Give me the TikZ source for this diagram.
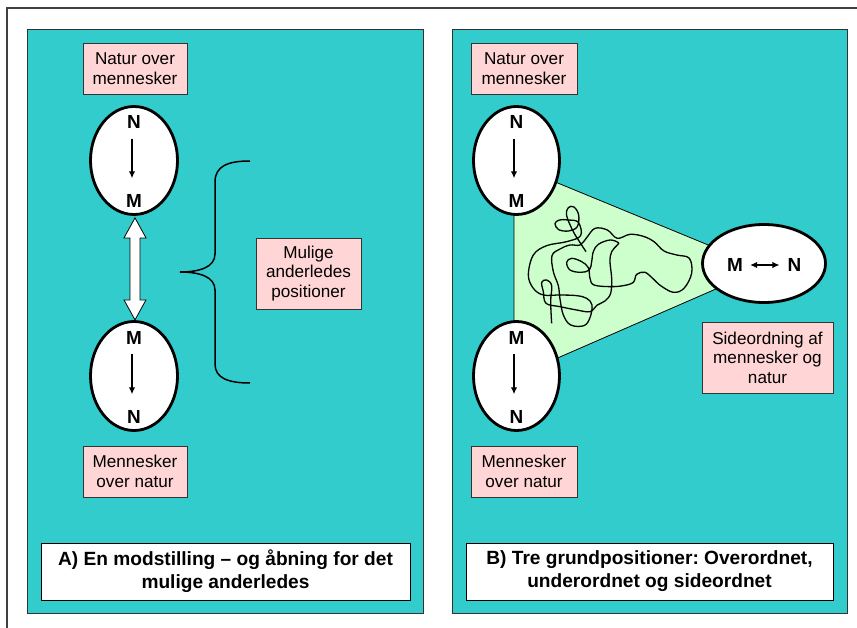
\documentclass[tikz,border=0pt]{standalone}
\usepackage{fontspec}
\setmainfont{Liberation Sans}
\usetikzlibrary{arrows.meta,shapes.geometric,calc}
\definecolor{tealbg}{HTML}{33CCCC}
\definecolor{pinkbg}{HTML}{FFD5D5}
\definecolor{greenbg}{HTML}{CCFFCC}
\definecolor{edgecol}{HTML}{333333}
\frenchspacing
\tikzset{
  panel/.style={draw=edgecol, line width=1bp, fill=tealbg, inner sep=0pt},
  pinkbox/.style={draw=edgecol, line width=0.8bp, fill=pinkbg, align=center, inner sep=0pt,
    font=\fontsize{17.2}{19.5}\selectfont},
  ell/.style={ellipse, draw=black, line width=2.8bp, fill=white, inner sep=0pt},
  lbl/.style={inner sep=0pt, font=\fontsize{19}{21}\selectfont\bfseries},
  caption/.style={draw=black, line width=0.8bp, fill=white, align=center, inner sep=0pt,
    font=\fontsize{19.2}{23}\selectfont\bfseries},
  smallarr/.style={-{Latex[length=7bp,width=6.5bp]}, line width=1.3bp},
  botharr/.style={{Latex[length=7bp,width=6.5bp]}-{Latex[length=7bp,width=6.5bp]}, line width=1.3bp},
  dblarrow/.style={draw=black, line width=0.8bp, fill=white},
  bracestyle/.style={draw=black, line width=1.5bp},
  tri/.style={draw=black, line width=0.8bp, fill=greenbg},
  scribble/.style={draw=black, line width=1.3bp, line join=round},
}
\begin{document}
\begin{tikzpicture}[x=1bp,y=-1bp]
\useasboundingbox (0,0) rectangle (857,628);
\fill[white] (0,0) rectangle (857,628);
% outer frame
\draw[draw=black!75, line width=1.5bp] (7,628) -- (7,8) -- (857,8);

% panels
\node[panel, minimum width=395bp, minimum height=583bp] (pA) at (225.5,321.5) {};
\node[panel, minimum width=395bp, minimum height=583bp] (pB) at (649.5,321.5) {};

%%%%% Panel A
\node[pinkbox, minimum width=104bp, minimum height=51bp] (tA) at (135,68.5) {Natur over\\mennesker};
\node[pinkbox, minimum width=104bp, minimum height=51bp] (bA) at (135,471.5) {Mennesker\\over natur};
\node[pinkbox, minimum width=105bp, minimum height=71bp] (mul) at (308.5,273.5) {Mulige\\anderledes\\positioner};

\node[ell, minimum width=87bp, minimum height=108bp] (eA1) at (134,160.5) {};
\node[ell, minimum width=87bp, minimum height=109bp] (eA2) at (134,376) {};
\node[lbl] (nA1) at (134,122) {N};
\node[lbl] (mA1) at (134,201) {M};
\node[lbl] (mA2) at (134,337.5) {M};
\node[lbl] (nA2) at (134,417) {N};
\draw[smallarr, shorten <=10bp, shorten >=16bp] ([xshift=-2bp]nA1.south) -- ([xshift=-2bp]mA1.north);
\draw[smallarr, shorten <=10bp, shorten >=16bp] ([xshift=-2bp]mA2.south) -- ([xshift=-2bp]nA2.north);

% white double arrow between the two ellipses
\draw[dblarrow] ($(eA1.south)+(1,2)$) -- ++(11,20) -- ++(-6,0) -- ++(0,62) -- ++(6,0)
  -- ++(-11,20) -- ++(-11,-20) -- ++(6,0) -- ++(0,-62) -- ++(-6,0) -- cycle;

% brace
\draw[bracestyle] (250,161) .. controls (228,161) and (215,166) .. (215,182)
  -- (215,254) .. controls (215,267) and (200,272) .. (180,272)
  .. controls (200,272) and (215,277) .. (215,290)
  -- (215,364) .. controls (215,378) and (228,383) .. (250,383);

\node[caption, minimum width=369bp, minimum height=57bp] (capA) at (225.5,571.5)
  {A) En modstilling -- og åbning for det\\mulige anderledes};

%%%%% Panel B
\filldraw[tri] (514,165) -- (764,268) -- (514,377) -- cycle;
\begin{scope}[shift={(510,195)}, x=0.3333bp, y=-0.3333bp]
\draw[scribble] plot[smooth, tension=0.6] coordinates {
 (125,385) (122,320) (125,272) (110,255) (95,262) (100,290) (108,325) (150,335)
 (200,345) (240,350) (262,330) (285,318) (302,295) (305,250) (300,200) (305,170)
 (322,150) (325,143) (300,135) (265,148) (250,170) (245,200) (238,225) (212,232)
 (180,225) (170,202) (185,190) (215,200) (235,218) (240,250) (252,270) (300,275)
 (340,272) (370,262) (380,238) (405,232) (430,252) (452,272) (490,292) (522,280)
 (545,235) (538,190) (500,180) (462,168) (432,140) (400,124) (360,118) (322,130)
 (292,105) (255,100) (230,128) (210,150) (180,150) (150,162) (126,182) (130,230)
 (145,272) (150,312) (160,360) (182,390) (222,392) (240,368) (246,330) (230,310)
 (200,302) (150,300) (100,300) (70,280) (55,240) (70,180) (110,152) (170,140)
 (212,122) (205,82) (175,75) (148,75) (135,86) (146,104) (176,108) (202,95)
 (206,60) (192,36) (175,38) (170,62) (190,110) (215,150) (228,170)};
\end{scope}

\node[ell, minimum width=86bp, minimum height=108bp] (eB1) at (516.5,160.5) {};
\node[ell, minimum width=86bp, minimum height=109bp] (eB2) at (516.5,376) {};
\node[ell, minimum width=123bp, minimum height=78bp] (eR) at (764,263.5) {};
\node[lbl] (nB1) at (516.5,122) {N};
\node[lbl] (mB1) at (516.5,201) {M};
\node[lbl] (mB2) at (516.5,337.5) {M};
\node[lbl] (nB2) at (516.5,417) {N};
\draw[smallarr, shorten <=10bp, shorten >=16bp] ([xshift=-2.5bp]nB1.south) -- ([xshift=-2.5bp]mB1.north);
\draw[smallarr, shorten <=10bp, shorten >=16bp] ([xshift=-2.5bp]mB2.south) -- ([xshift=-2.5bp]nB2.north);
\node[lbl] (mR) at (735,265) {M};
\node[lbl] (nR) at (794.5,265) {N};
\draw[botharr, shorten <=7bp, shorten >=8bp] (mR.east) -- (nR.west);

\node[pinkbox, minimum width=106bp, minimum height=51bp] (tB) at (524,68.5) {Natur over\\mennesker};
\node[pinkbox, minimum width=106bp, minimum height=51bp] (bB) at (524,471.5) {Mennesker\\over natur};
\node[pinkbox, minimum width=131bp, minimum height=71bp] (side) at (767.5,357.5) {Sideordning af\\mennesker og\\natur};

\node[caption, minimum width=367bp, minimum height=57bp] (capB) at (649.5,571.5)
  {B) Tre grundpositioner: Overordnet,\\underordnet og sideordnet};
\end{tikzpicture}
\end{document}
